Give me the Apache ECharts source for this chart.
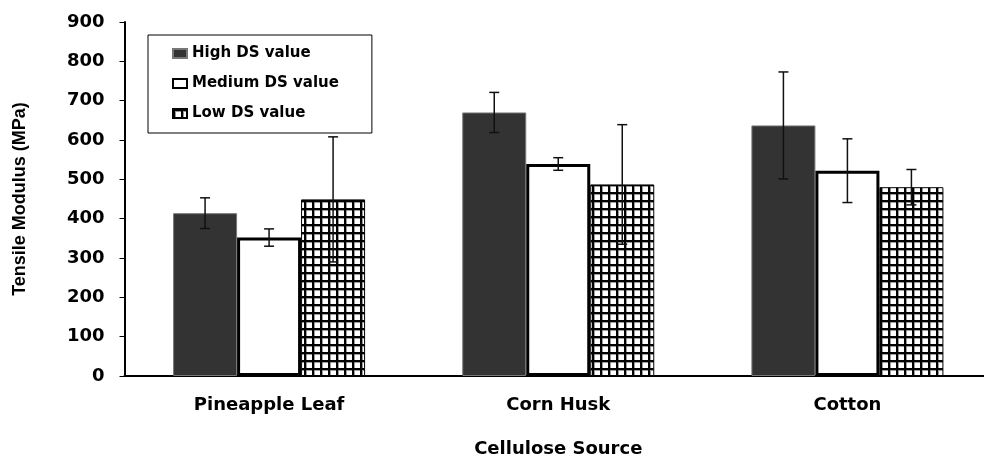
<!DOCTYPE html>
<html>
<head>
<meta charset="utf-8">
<script src="https://cdn.jsdelivr.net/npm/echarts@6/dist/echarts.min.js"></script>
<style>
  html, body { margin: 0; padding: 0; background: #fff; }
  /* plot runs a little past the right edge, as in the source image */
  #wrap { width: 984px; height: 457px; overflow: hidden; position: relative; }
  #chart { width: 992px; height: 457px; position: absolute; left: 0; top: 0; }
</style>
</head>
<body>
<div id="wrap"><div id="chart"></div></div>
<script>
// cellulose sources
const categories = ['Pineapple Leaf', 'Corn Husk', 'Cotton'];

// tensile modulus (MPa) and error bar half-lengths
const highDS = [414, 670, 637];
const highErr = [39, 51, 136];
const mediumDS = [352, 539, 522];
const mediumErr = [22, 16, 81];
const lowDS = [449, 487, 480];
const lowErr = [159, 152, 45];

const seriesNames = ['High DS value', 'Medium DS value', 'Low DS value'];

// checkered fill for the low DS bars
function makeGrid() {
  const c = document.createElement('canvas');
  c.width = 8; c.height = 8;
  const ctx = c.getContext('2d');
  ctx.fillStyle = '#fff';
  ctx.fillRect(0, 0, 8, 8);
  ctx.fillStyle = '#999';
  ctx.fillRect(0, 0, 3, 8);
  ctx.fillRect(0, 0, 8, 3);
  ctx.fillStyle = '#000';
  ctx.fillRect(0, 0, 2, 8);
  ctx.fillRect(0, 0, 8, 2);
  return c;
}

const wide = '"DejaVu Sans", Verdana, sans-serif';
const arial = '"Liberation Sans", Arial, sans-serif';
const catGap = 0.336;

var myChart = echarts.init(document.getElementById('chart'));

// draws one error bar, shifted to sit on the middle of its bar
function errorRenderer(slot) {
  return function (params, api) {
    const cat = api.value(0);
    const v = api.value(1);
    const e = api.value(2);
    const band = api.size([1, 0])[0];
    const barW = band * (1 - catGap) / 3;
    const x = api.coord([cat, v])[0] + (slot - 1) * barW;
    const yTop = api.coord([cat, v + e])[1];
    const yBot = api.coord([cat, v - e])[1];
    const cap = 5;
    const style = { stroke: '#111', lineWidth: 1.5 };
    return {
      type: 'group',
      children: [
        { type: 'line', shape: { x1: x, y1: yTop, x2: x, y2: yBot }, style: style },
        { type: 'line', shape: { x1: x - cap, y1: yTop, x2: x + cap, y2: yTop }, style: style },
        { type: 'line', shape: { x1: x - cap, y1: yBot, x2: x + cap, y2: yBot }, style: style }
      ]
    };
  };
}

function errData(vals, errs) {
  return vals.map((v, i) => [i, v, errs[i]]);
}

var option = {
  backgroundColor: '#fff',
  animation: false,
  textStyle: { fontFamily: wide },
  legend: {
    data: seriesNames,
    icon: 'rect',
    orient: 'vertical',
    left: 148,
    top: 35,
    padding: [11, 33, 12, 24],
    itemGap: 15,
    itemWidth: 14,
    itemHeight: 9,
    borderColor: '#000',
    borderWidth: 1,
    backgroundColor: '#fff',
    textStyle: { fontFamily: wide, fontWeight: 'bold', fontSize: 15, color: '#000' }
  },
  grid: {
    left: 124.5,
    right: 0,
    top: 22,
    bottom: 81,
    outerBoundsMode: 'none'
  },
  xAxis: {
    type: 'category',
    data: categories,
    name: 'Cellulose Source',
    nameLocation: 'middle',
    nameGap: 64,
    nameTextStyle: { fontFamily: wide, fontWeight: 'bold', fontSize: 18, color: '#000' },
    axisLine: { lineStyle: { color: '#000', width: 2 } },
    axisTick: { length: 5, lineStyle: { color: '#000' } },
    axisLabel: { margin: 20, fontFamily: wide, fontWeight: 'bold', fontSize: 18, color: '#000' }
  },
  yAxis: {
    type: 'value',
    min: 0,
    max: 900,
    interval: 100,
    name: 'Tensile Modulus (MPa)',
    nameLocation: 'middle',
    nameRotate: 90,
    nameGap: 95,
    nameTextStyle: { fontFamily: arial, fontWeight: 'bold', fontSize: 18, color: '#000' },
    axisLine: { show: true, lineStyle: { color: '#000', width: 2 } },
    axisTick: { show: true, length: 5, lineStyle: { color: '#000' } },
    axisLabel: { margin: 20, fontFamily: wide, fontWeight: 'bold', fontSize: 18, color: '#000' },
    splitLine: { show: false }
  },
  series: [
    {
      name: seriesNames[0],
      type: 'bar',
      barGap: 0,
      barCategoryGap: (catGap * 100) + '%',
      itemStyle: { color: '#333333', borderColor: '#777', borderWidth: 1 },
      data: highDS
    },
    {
      name: seriesNames[1],
      type: 'bar',
      barGap: 0,
      barCategoryGap: (catGap * 100) + '%',
      itemStyle: { color: '#fff', borderColor: '#000', borderWidth: 3 },
      data: mediumDS
    },
    {
      name: seriesNames[2],
      type: 'bar',
      barGap: 0,
      barCategoryGap: (catGap * 100) + '%',
      itemStyle: { color: { image: makeGrid(), repeat: 'repeat' }, borderColor: '#000', borderWidth: 1 },
      data: lowDS
    },
    { type: 'custom', z: 5, renderItem: errorRenderer(0), data: errData(highDS, highErr) },
    { type: 'custom', z: 5, renderItem: errorRenderer(1), data: errData(mediumDS, mediumErr) },
    { type: 'custom', z: 5, renderItem: errorRenderer(2), data: errData(lowDS, lowErr) }
  ]
};

myChart.setOption(option);
</script>
</body>
</html>
